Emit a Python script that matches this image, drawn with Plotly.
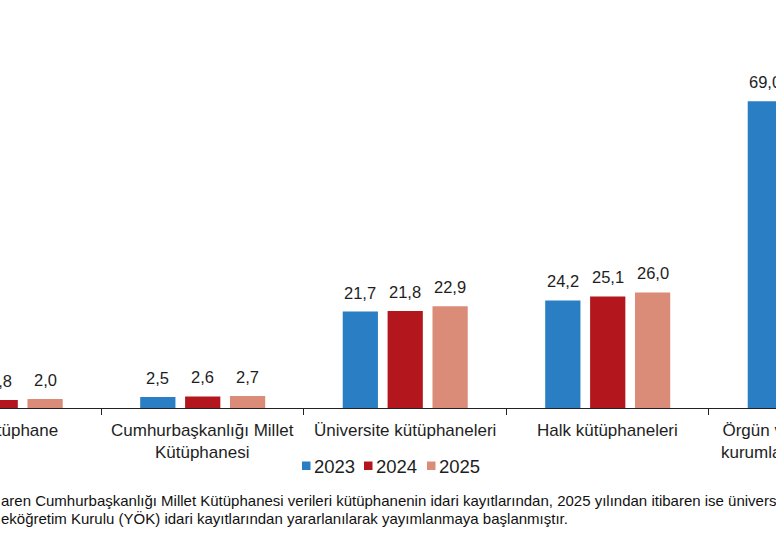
import plotly.graph_objects as go

# ---- data ----
categories = [
    "Milli Kütüphane",
    "Cumhurbaşkanlığı Millet<br>Kütüphanesi",
    "Üniversite kütüphaneleri",
    "Halk kütüphaneleri",
    "Örgün ve yaygın eğitim<br>kurumları kütüphaneleri",
]
years = ["2023", "2024", "2025"]
values_2023 = [None, 2.5, 21.7, 24.2, 69.0]
values_2024 = [1.8, 2.6, 21.8, 25.1, None]
values_2025 = [2.0, 2.7, 22.9, 26.0, None]
series = [values_2023, values_2024, values_2025]
colors = ["#2a7ec3", "#b3171d", "#db8c79"]
footnote_lines = [
    "aren Cumhurbaşkanlığı Millet Kütüphanesi verileri kütüphanenin idari kayıtlarından, 2025 yılından itibaren ise üniversite kütüphaneleri verileri",
    "eköğretim Kurulu (YÖK) idari kayıtlarından yararlanılarak yayımlanmaya başlanmıştır.",
]

FONT = "Liberation Sans, Arial, sans-serif"
TXT = "#1e1e1e"
BARGAP = 0.335
BARGROUPGAP = 0.215
XR = [-0.001, 3.831]
YR = [0, 91.8]

fig = go.Figure()
for name, vals, col in zip(years, series, colors):
    fig.add_trace(go.Bar(
        x=categories, y=vals, name=name, marker=dict(color=col, line=dict(width=0)),
        showlegend=False, hoverinfo="skip",
    ))

def fmt(v):
    return f"{v:.1f}".replace(".", ",")

annotations = []
slot = (1 - BARGAP) / len(series)
for j, vals in enumerate(series):
    for i, v in enumerate(vals):
        if v is None:
            continue
        annotations.append(dict(
            x=i + (j - 1) * slot, y=v, xref="x", yref="y", text=fmt(v),
            showarrow=False, yanchor="bottom", xanchor="center", yshift=8,
            font=dict(family=FONT, size=16.5, color=TXT),
        ))

# category labels (placed via axis mapping to paper coords, since some lie outside the visible range)
for i, cat in enumerate(categories):
    xp = (i - XR[0]) / (XR[1] - XR[0])
    annotations.append(dict(
        x=xp, y=0, xref="paper", yref="paper", text=cat, showarrow=False,
        xanchor="center", yanchor="top", yshift=-11, align="center",
        font=dict(family=FONT, size=17, color=TXT),
    ))

# legend (manual, compact)
leg_x = [302, 364, 427]
W = 776.0
PH = 408.0
for k, (name, col) in enumerate(zip(years, colors)):
    x0 = leg_x[k]
    fig.add_shape(type="rect", xref="paper", yref="paper",
                  x0=x0 / W, x1=(x0 + 8.5) / W, y0=(PH - 470) / PH, y1=(PH - 461.5) / PH,
                  fillcolor=col, line=dict(width=0))
    annotations.append(dict(
        x=(x0 + 9.5) / W, y=(PH - 466) / PH, xref="paper", yref="paper", text=name,
        showarrow=False, xanchor="left", yanchor="middle",
        font=dict(family=FONT, size=18.5, color=TXT),
    ))

# footnote, one annotation per line
for k, line in enumerate(footnote_lines):
    annotations.append(dict(
        x=-1 / W, y=0, xref="paper", yref="paper", text=line,
        showarrow=False, xanchor="left", yanchor="top", yshift=-82 - 18 * k, align="left",
        font=dict(family=FONT, size=15, color="#111111"),
    ))

fig.update_layout(
    width=776, height=540, autosize=False,
    margin=dict(l=0, r=0, t=0, b=132, pad=0),
    paper_bgcolor="white", plot_bgcolor="white",
    barmode="group", bargap=BARGAP, bargroupgap=BARGROUPGAP,
    showlegend=False,
    annotations=annotations,
    xaxis=dict(
        type="category", range=XR, showticklabels=False, tickson="boundaries",
        ticks="outside", ticklen=6, tickwidth=1.3, tickcolor="#222",
        showline=True, linecolor="#222", linewidth=1.3, showgrid=False, zeroline=False,
        fixedrange=True,
    ),
    yaxis=dict(range=YR, visible=False, showgrid=False, zeroline=False, fixedrange=True),
)

fig.write_html("out.html", config={"displayModeBar": False})
